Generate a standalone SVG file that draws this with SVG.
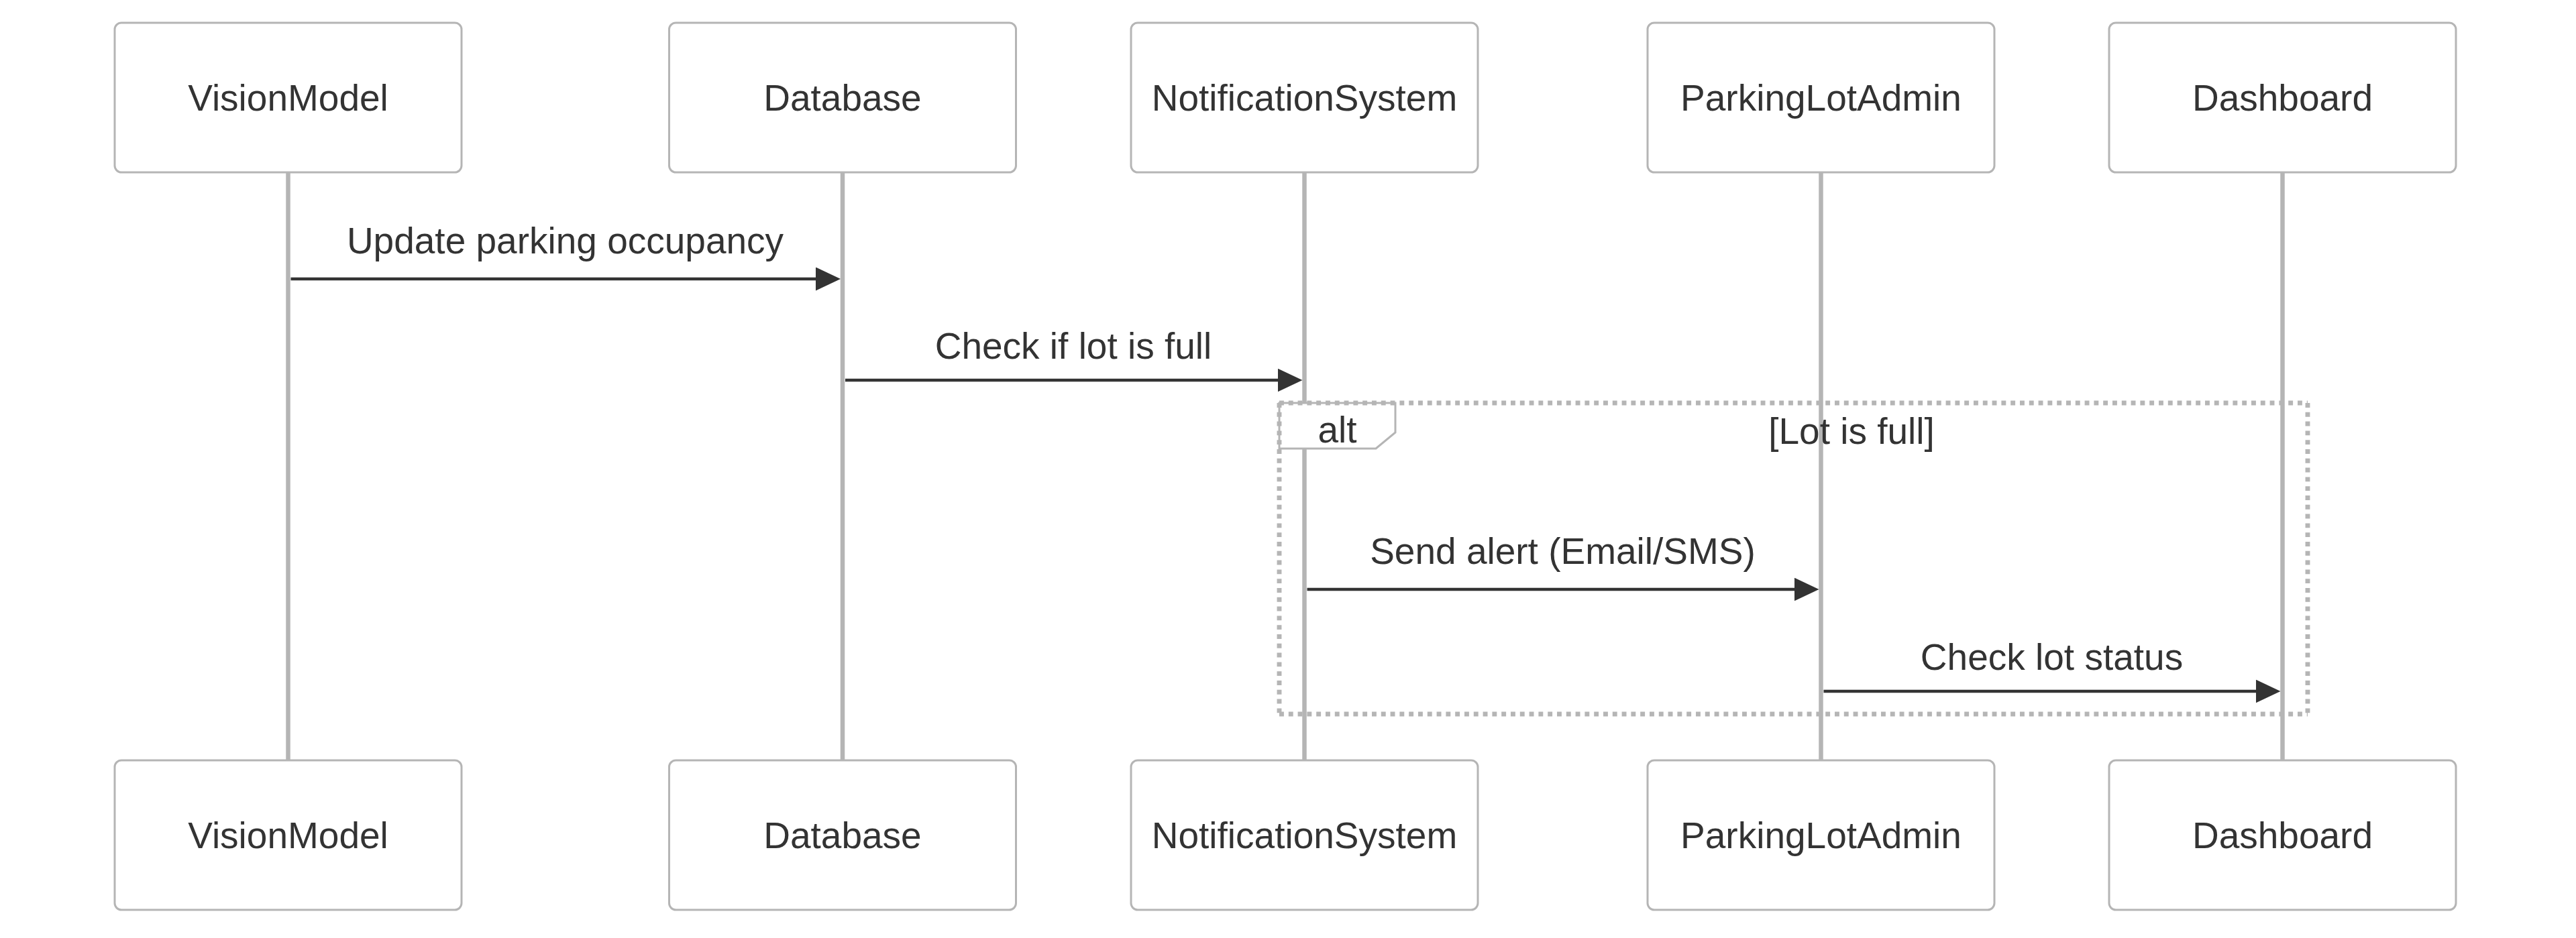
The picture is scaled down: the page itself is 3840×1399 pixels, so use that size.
<svg xmlns="http://www.w3.org/2000/svg" width="3840" height="1399" viewBox="0 0 3840 1399">
<style>
.actor{fill:#ffffff;stroke:#b5b5b5;stroke-width:3}
.atext{font-family:"Liberation Sans",Arial,sans-serif;font-size:55px;fill:#333333;text-anchor:middle}
.life{stroke:#b5b5b5;stroke-width:6.5}
.msg{stroke:#333333;stroke-width:4.5;fill:none}
.mtext{font-family:"Liberation Sans",Arial,sans-serif;font-size:55px;fill:#333333;text-anchor:middle}
.loop{stroke:#b5b5b5;stroke-width:6.9;stroke-dasharray:6.9 6.9;fill:none}
.tab{fill:#ffffff;stroke:#b5b5b5;stroke-width:3}
</style>
<defs>
<marker id="arrow" markerUnits="userSpaceOnUse" markerWidth="40" markerHeight="36" refX="7" refY="17.5" orient="auto">
<path d="M0,0 L37,17.5 L0,35 z" fill="#333333"/>
</marker>
</defs>
<rect width="3840" height="1399" fill="#ffffff"/>
<g id="lifelines">
<line class="life" x1="429.5" y1="257" x2="429.5" y2="1134"/>
<line class="life" x1="1256" y1="257" x2="1256" y2="1134"/>
<line class="life" x1="1944.5" y1="257" x2="1944.5" y2="1134"/>
<line class="life" x1="2714.5" y1="257" x2="2714.5" y2="1134"/>
<line class="life" x1="3402.5" y1="257" x2="3402.5" y2="1134"/>
</g>
<g id="VisionModel">
<rect class="actor" x="171" y="34" width="517" height="223" rx="10"/>
<text class="atext" x="429.5" y="165">VisionModel</text>
<rect class="actor" x="171" y="1134" width="517" height="223" rx="10"/>
<text class="atext" x="429.5" y="1265">VisionModel</text>
</g>
<g id="Database">
<rect class="actor" x="997.5" y="34" width="517" height="223" rx="10"/>
<text class="atext" x="1256" y="165">Database</text>
<rect class="actor" x="997.5" y="1134" width="517" height="223" rx="10"/>
<text class="atext" x="1256" y="1265">Database</text>
</g>
<g id="NotificationSystem">
<rect class="actor" x="1686" y="34" width="517" height="223" rx="10"/>
<text class="atext" x="1944.5" y="165">NotificationSystem</text>
<rect class="actor" x="1686" y="1134" width="517" height="223" rx="10"/>
<text class="atext" x="1944.5" y="1265">NotificationSystem</text>
</g>
<g id="ParkingLotAdmin">
<rect class="actor" x="2456" y="34" width="517" height="223" rx="10"/>
<text class="atext" x="2714.5" y="165">ParkingLotAdmin</text>
<rect class="actor" x="2456" y="1134" width="517" height="223" rx="10"/>
<text class="atext" x="2714.5" y="1265">ParkingLotAdmin</text>
</g>
<g id="Dashboard">
<rect class="actor" x="3144" y="34" width="517" height="223" rx="10"/>
<text class="atext" x="3402.5" y="165">Dashboard</text>
<rect class="actor" x="3144" y="1134" width="517" height="223" rx="10"/>
<text class="atext" x="3402.5" y="1265">Dashboard</text>
</g>
<g id="alt-fragment">
<polygon class="tab" points="1907,601 2080,601 2080,645 2051,669 1907,669"/>
<line class="loop" x1="1907" y1="601" x2="3440" y2="601"/>
<line class="loop" x1="3440" y1="601" x2="3440" y2="1065"/>
<line class="loop" x1="1907" y1="1065" x2="3440" y2="1065"/>
<line class="loop" x1="1907" y1="601" x2="1907" y2="1065"/>
<text class="mtext" x="1993.5" y="660">alt</text>
<text class="mtext" x="2760" y="662">[Lot is full]</text>
</g>
<g id="connectors">
<line class="msg" x1="433.5" y1="416" x2="1223" y2="416" marker-end="url(#arrow)"/>
<text class="mtext" x="842.5" y="378">Update parking occupancy</text>
<line class="msg" x1="1260" y1="567" x2="1911.5" y2="567" marker-end="url(#arrow)"/>
<text class="mtext" x="1600" y="535">Check if lot is full</text>
<line class="msg" x1="1948.5" y1="879" x2="2681.5" y2="879" marker-end="url(#arrow)"/>
<text class="mtext" x="2329.5" y="841">Send alert (Email/SMS)</text>
<line class="msg" x1="2718.5" y1="1031" x2="3369.5" y2="1031" marker-end="url(#arrow)"/>
<text class="mtext" x="3058.5" y="999">Check lot status</text>
</g>
</svg>
